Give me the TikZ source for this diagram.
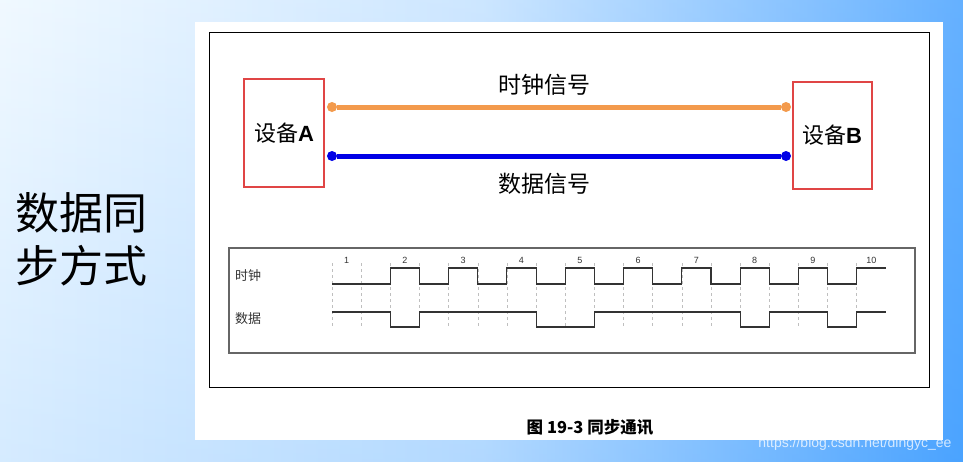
\documentclass[tikz,border=0pt]{standalone}
\usepackage{fontspec}
\setmainfont{Liberation Sans}
\newfontfamily\cjk{Noto Sans CJK SC}
\usetikzlibrary{positioning,calc}
\definecolor{bgL}{HTML}{EEF8FF}
\definecolor{bgM}{HTML}{C4E2FF}
\definecolor{bgR}{HTML}{4AA3FF}
\definecolor{clkc}{HTML}{F39A4C}
\definecolor{datc}{HTML}{0000E6}
\definecolor{boxc}{HTML}{E04545}
\definecolor{wavec}{HTML}{333333}
\tikzset{
  dev/.style={draw=boxc, line width=2pt, minimum width=80pt, inner sep=0pt, font=\fontsize{22}{22}\selectfont},
  dotO/.style={circle, fill=clkc, inner sep=0pt, minimum size=10pt},
  dotB/.style={circle, fill=datc, inner sep=0pt, minimum size=10pt},
  clkln/.style={clkc, line width=5pt},
  datln/.style={datc, line width=5pt},
  siglab/.style={font=\cjk\fontsize{23}{23}\selectfont},
  wave/.style={wavec, line width=1.1pt},
  grid/.style={gray!50, dash pattern=on 3pt off 3pt, line width=0.5pt},
  num/.style={font=\fontsize{9}{9}\selectfont, text=wavec},
  rowlab/.style={font=\cjk\fontsize{13}{13}\selectfont, text=wavec},
}
\newcommand{\hp}{29.15}

\begin{document}
\begin{tikzpicture}[x=1pt, y=-1pt]
  \useasboundingbox (0,0) rectangle (963,461);
  % background and panel
  \shade[left color=bgL, right color=bgR, middle color=bgM] (0,0) rectangle (963,461);
  \shade[top color=white, bottom color=bgR, opacity=0.15] (0,0) rectangle (963,461);
  \fill[white] (195,22) rectangle (943,440);
  \draw[black, line width=1pt] (209,32) rectangle (929,387);
  % title
  \node[anchor=west, align=left, font=\cjk\fontsize{44}{53}\selectfont] (title) at (12,239) {数据同\\步方式};
  % devices
  \node[dev, minimum height=108pt] (devA) at (284,133) {{\cjk 设备}\textbf{A}};
  \node[dev, minimum height=107pt, minimum width=79pt] (devB) at (832,135.5) {{\cjk 设备}\textbf{B}};
  \node[dotO] (clkA) at (332,107) {};
  \node[dotO] (clkB) at (786,107) {};
  \node[dotB] (datA) at (332,156) {};
  \node[dotB] (datB) at (786,156) {};
  \draw[clkln] (clkA) -- (clkB);
  \draw[datln] (datA) -- (datB);
  \node[siglab] (clkT) at (544,85) {时钟信号};
  \node[siglab] (datT) at (544,184) {数据信号};
  % timing chart
  \draw[gray!80!black, line width=1.2pt] (229,248) rectangle (915,353);
  \node[rowlab] (clkR) at (248,276) {时钟};
  \node[rowlab] (datR) at (248,319) {数据};
  \foreach \k in {0,...,18}
    \draw[grid] ({332+\k*\hp},263) -- ({332+\k*\hp},328);
  \foreach \n in {1,...,10}
    \node[num] at ({332+(2*\n-1.5)*\hp},260) {\n};
  \draw[wave] (332,284) \foreach \i in {1,...,8} {
      -- ({332+2*\i*\hp},284) -- ({332+2*\i*\hp},268)
      -- ({332+(2*\i+1)*\hp},268) -- ({332+(2*\i+1)*\hp},284)}
    -- ({332+18*\hp},284) -- ({332+18*\hp},268) -- ({332+19*\hp},268);
  \draw[wave] (332,312) \foreach \a/\b in {2/3,7/9,14/15,17/18} {
      -- ({332+\a*\hp},312) -- ({332+\a*\hp},327)
      -- ({332+\b*\hp},327) -- ({332+\b*\hp},312)}
    -- ({332+19*\hp},312);
  % caption and mark
  \node[font=\cjk\bfseries\fontsize{16.5}{16.5}\selectfont] (cap) at (590,427) {图 19-3 同步通讯};
  \node[anchor=east, font=\fontsize{14}{14}\selectfont, text=white, opacity=0.75] (mark) at (955,444) {https://blog.csdn.net/dingyc\_ee};
\end{tikzpicture}
\end{document}
